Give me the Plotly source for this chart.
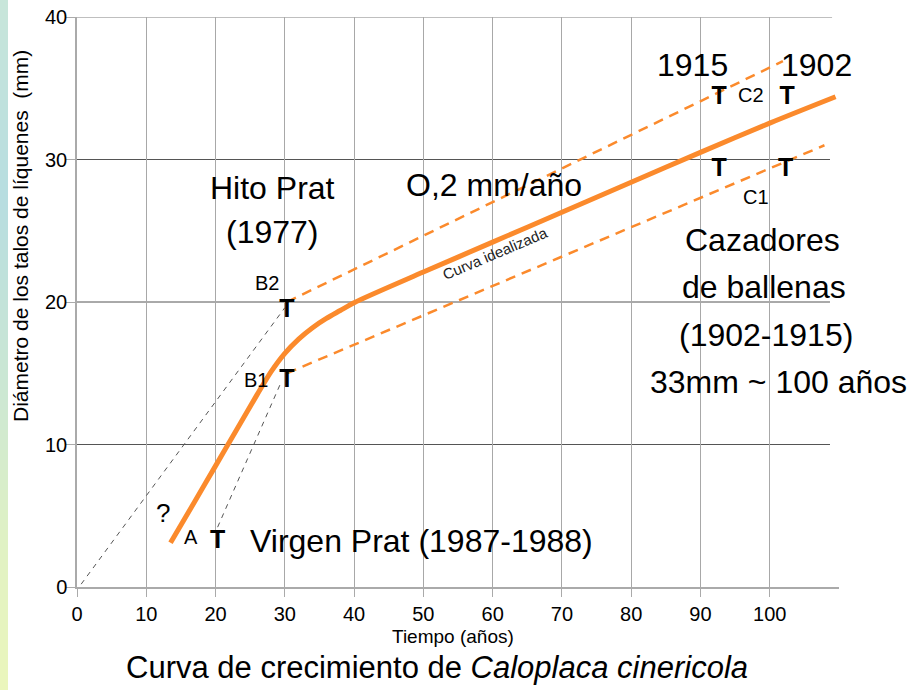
import plotly.graph_objects as go

# ---------------- data ----------------
curve_x = [13.5, 17, 20, 23, 26, 28, 30, 32, 34, 36, 38, 40, 50, 60, 70, 80, 90, 100, 109.5]
curve_y = [3.1, 6.0, 8.5, 11.0, 13.5, 15.1, 16.4, 17.4, 18.2, 18.85, 19.4, 19.95, 22.1, 24.2, 26.3, 28.4, 30.5, 32.55, 34.4]

upper_x = [30.3, 101.9]
upper_y = [20.0, 36.9]
lower_x = [30.3, 107.9]
lower_y = [15.0, 31.0]

guide1_x = [0.6, 30.0]
guide1_y = [0.2, 19.6]
guide2_x = [20.3, 29.4]
guide2_y = [4.2, 14.3]

sample_x = [20.3, 30.3, 30.3, 92.7, 102.5, 92.7, 102.3]
sample_y = [3.2, 14.5, 19.4, 34.3, 34.3, 29.3, 29.3]

x_ticks = [0, 10, 20, 30, 40, 50, 60, 70, 80, 90, 100]
y_ticks = [0, 10, 20, 30, 40]
h_grid = [10, 20, 30]

big_labels = ["Hito Prat", "(1977)", "O,2 mm/año", "1915", "1902", "Cazadores",
              "de ballenas", "(1902-1915)", "33mm ~ 100 años", "Virgen Prat (1987-1988)"]
big_x = [28.15, 28.15, 60.2, 88.9, 106.7, 99.0, 99.2, 99.4, 101.2, 49.7]
big_y = [28.0, 24.9, 28.2, 36.6, 36.6, 24.35, 21.05, 17.7, 14.4, 3.2]

small_labels = ["A", "B2", "B1", "C2", "C1"]
small_x = [16.5, 27.4, 25.8, 97.3, 98.0]
small_y = [3.5, 21.3, 14.5, 34.5, 27.4]

ORANGE = "#fb8a2c"
SANS = "Liberation Sans, Arial, sans-serif"

fig = go.Figure()

fig.add_trace(go.Scatter(x=guide1_x, y=guide1_y, mode="lines",
                         line=dict(color="#555555", width=1, dash="5px,5px"), hoverinfo="skip"))
fig.add_trace(go.Scatter(x=guide2_x, y=guide2_y, mode="lines",
                         line=dict(color="#555555", width=1, dash="5px,5px"), hoverinfo="skip"))
fig.add_trace(go.Scatter(x=upper_x, y=upper_y, mode="lines",
                         line=dict(color=ORANGE, width=2.5, dash="10px,7px"), hoverinfo="skip"))
fig.add_trace(go.Scatter(x=lower_x, y=lower_y, mode="lines",
                         line=dict(color=ORANGE, width=2.5, dash="10px,7px"), hoverinfo="skip"))
fig.add_trace(go.Scatter(x=curve_x, y=curve_y, mode="lines",
                         line=dict(color=ORANGE, width=5, shape="spline", smoothing=0.8),
                         hoverinfo="skip"))
fig.add_trace(go.Scatter(x=sample_x, y=sample_y, mode="text", text=["<b>T</b>"] * len(sample_x),
                         textposition="middle center",
                         textfont=dict(family=SANS, size=25, color="black"), hoverinfo="skip"))

# horizontal grid lines and top frame
for v in h_grid:
    fig.add_shape(type="line", xref="x", yref="y", x0=0, x1=108.7, y0=v, y1=v,
                  line=dict(color="#555555", width=1), layer="below")
fig.add_shape(type="line", xref="x", yref="y", x0=0, x1=109.0, y0=40, y1=40,
              line=dict(color="#aaaaaa", width=1.5), layer="below")

# left gradient stripe
stops = [(0, (200, 230, 218)), (200, (183, 221, 224)), (400, (205, 232, 210)),
         (550, (225, 242, 195)), (690, (235, 246, 188))]
W, H = 913, 690
ML, MR, MT, MB = 77, 74, 17, 103
pw, ph = W - ML - MR, H - MT - MB


def col_at(py):
    for (a, ca), (b, cb) in zip(stops[:-1], stops[1:]):
        if a <= py <= b:
            t = (py - a) / (b - a)
            return "rgb(%d,%d,%d)" % tuple(round(ca[i] + t * (cb[i] - ca[i])) for i in range(3))
    return "rgb(%d,%d,%d)" % stops[-1][1]


step = 10
for py in range(0, H, step):
    fig.add_shape(type="rect", xref="paper", yref="paper",
                  x0=(0 - ML) / pw, x1=(8 - ML) / pw,
                  y0=(H - MB - py - step) / ph, y1=(H - MB - py) / ph,
                  fillcolor=col_at(py + step / 2), line=dict(width=0), layer="below")

for t, x, y in zip(big_labels, big_x, big_y):
    fig.add_annotation(x=x, y=y, xref="x", yref="y", text=t, showarrow=False,
                       xanchor="center", yanchor="middle",
                       font=dict(family=SANS, size=32, color="black"))
for t, x, y in zip(small_labels, small_x, small_y):
    fig.add_annotation(x=x, y=y, xref="x", yref="y", text=t, showarrow=False,
                       xanchor="center", yanchor="middle",
                       font=dict(family=SANS, size=20, color="black"))
fig.add_annotation(x=12.4, y=5.2, xref="x", yref="y", text="?", showarrow=False,
                   xanchor="center", yanchor="middle",
                   font=dict(family=SANS, size=26, color="black"))
fig.add_annotation(x=60.3, y=23.4, xref="x", yref="y", text="Curva idealizada", showarrow=False,
                   xanchor="center", yanchor="middle",
                   textangle=-23, font=dict(family=SANS, size=15, color="#222222"))

# axis titles as annotations
fig.add_annotation(x=(453 - ML) / pw, y=(H - MB - 636) / ph, xref="paper", yref="paper",
                   text="Tiempo (años)", showarrow=False, xanchor="center", yanchor="middle",
                   font=dict(family=SANS, size=19, color="black"))
fig.add_annotation(x=(437 - ML) / pw, y=(H - MB - 667) / ph, xref="paper", yref="paper",
                   text="Curva de crecimiento de <i>Caloplaca cinericola</i>", showarrow=False,
                   xanchor="center", yanchor="middle",
                   font=dict(family=SANS, size=31, color="black"))
fig.add_annotation(x=(21 - ML) / pw, y=(H - MB - 236) / ph, xref="paper", yref="paper",
                   text="Diámetro de los talos de líquenes  (mm)", showarrow=False, textangle=-90,
                   xanchor="center", yanchor="middle",
                   font=dict(family=SANS, size=21, color="black"))

fig.update_layout(
    width=W, height=H,
    margin=dict(l=ML, r=MR, t=MT, b=MB, autoexpand=False),
    paper_bgcolor="white", plot_bgcolor="white",
    showlegend=False,
    xaxis=dict(range=[0, 110], tickvals=x_ticks, showgrid=True, gridcolor="#a8a8a8", gridwidth=1,
               zeroline=False, showline=True, linecolor="#aaaaaa", linewidth=1.5,
               ticks="outside", ticklen=8, tickcolor="#aaaaaa", automargin=False,
               ticklabelstandoff=0,
               tickfont=dict(family=SANS, size=20, color="black")),
    yaxis=dict(range=[0, 40], tickvals=y_ticks, showgrid=False, zeroline=False,
               showline=True, linecolor="#aaaaaa", linewidth=1.5,
               ticks="outside", ticklen=9, tickcolor="#aaaaaa", automargin=False,
               ticklabelstandoff=-5,
               tickfont=dict(family=SANS, size=20, color="black")),
)

fig.write_html("out.html", config={"displayModeBar": False},
               post_script="document.body.style.margin='0';document.body.style.overflow='hidden';")
